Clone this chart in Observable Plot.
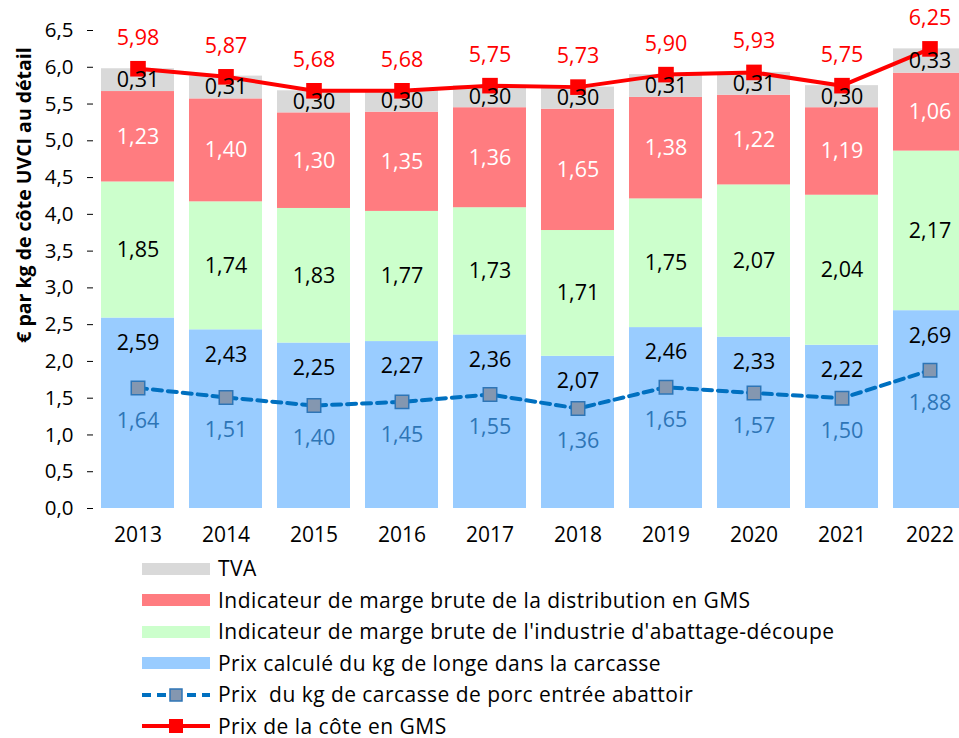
<!DOCTYPE html>
<html><head><meta charset="utf-8">
<script src="https://cdn.jsdelivr.net/npm/d3@7"></script>
<script src="https://cdn.jsdelivr.net/npm/@observablehq/plot@0.6"></script>
<style>
body{margin:0;background:#fff;font-family:"Open Sans",sans-serif;}
#chart{width:959px;overflow:hidden;}
#legend{margin-left:142px;}
.row{height:31.5px;display:flex;align-items:center;font-size:21px;letter-spacing:0.45px;color:#000;white-space:pre;}
.row span{line-height:1;}
.row svg{margin-right:8px;flex:none;}
</style></head><body>
<div id="chart"></div>
<div id="legend"></div>
<script>
const years = ["2013","2014","2015","2016","2017","2018","2019","2020","2021","2022"];
const prixLonge = [2.59,2.43,2.25,2.27,2.36,2.07,2.46,2.33,2.22,2.69];
const margeIndustrie = [1.85,1.74,1.83,1.77,1.73,1.71,1.75,2.07,2.04,2.17];
const margeGMS = [1.23,1.40,1.30,1.35,1.36,1.65,1.38,1.22,1.19,1.06];
const tva = [0.31,0.31,0.30,0.30,0.30,0.30,0.31,0.31,0.30,0.33];
const prixCoteGMS = [5.98,5.87,5.68,5.68,5.75,5.73,5.90,5.93,5.75,6.25];
const prixCarcasse = [1.64,1.51,1.40,1.45,1.55,1.36,1.65,1.57,1.50,1.88];
const yTicks = [0,0.5,1,1.5,2,2.5,3,3.5,4,4.5,5,5.5,6,6.5];
const serieNames = [
  "Prix calculé du kg de longe dans la carcasse",
  "Indicateur de marge brute de l'industrie d'abattage-découpe",
  "Indicateur de marge brute de la distribution en GMS",
  "TVA"
];
const lineNames = ["Prix  du kg de carcasse de porc entrée abattoir", "Prix de la côte en GMS"];
const yLabel = "€ par kg de côte UVCI au détail";

const colors = {
  longe: "#99CCFF", industrie: "#CCFFCC", gms: "#FF7C80", tva: "#D9D9D9",
  carcasseLine: "#0070C0", carcasseFill: "#8497B0", carcasseStroke: "#2E75B6",
  cote: "#FF0000"
};

const fmt = v => v.toFixed(2).replace(".", ",");
const fmtTick = v => v.toFixed(1).replace(".", ",");

const seriesValues = [prixLonge, margeIndustrie, margeGMS, tva];
const stacked = [];
years.forEach((y, i) => {
  serieNames.forEach((s, k) => stacked.push({year: y, serie: s, value: seriesValues[k][i], k}));
});
const pts = years.map((y, i) => ({year: y, cote: prixCoteGMS[i], carcasse: prixCarcasse[i], longe: prixLonge[i]}));

const LBL = 21.5;
const plot = Plot.plot({
  width: 959,
  height: 553,
  marginLeft: 93,
  marginTop: 30,
  marginBottom: 45,
  marginRight: -15,
  style: {fontFamily: "Open Sans", fontSize: "20px", color: "#000", background: "#fff", overflow: "hidden"},
  x: {type: "band", domain: years, paddingInner: 0.17, paddingOuter: 0.09, label: null},
  y: {domain: [0, 6.5], label: null},
  color: {domain: serieNames, range: [colors.longe, colors.industrie, colors.gms, colors.tva]},
  marks: [
    Plot.barY(stacked, {x: "year", y: "value", fill: "serie", order: "k"}),
    Plot.axisY({ticks: yTicks, tickFormat: fmtTick, tickSize: 6, tickPadding: 14, line: true, label: null, fontSize: 20.5}),
    Plot.axisX({tickSize: 0, tickPadding: 19, line: true, label: null, fontSize: 21}),
    Plot.line(pts, {x: "year", y: "carcasse", stroke: colors.carcasseLine, strokeWidth: 4, strokeDasharray: "9,6"}),
    Plot.dot(pts, {x: "year", y: "carcasse", symbol: "square", r: 7.6, fill: colors.carcasseFill, stroke: colors.carcasseStroke, strokeWidth: 1.5}),
    Plot.line(pts, {x: "year", y: "cote", stroke: colors.cote, strokeWidth: 4}),
    Plot.dot(pts, {x: "year", y: "cote", symbol: "square", r: 8.8, fill: colors.cote}),
    Plot.text(stacked, Plot.stackY({x: "year", y: "value", order: "k", text: d => (d.k === 1 || d.k === 3) ? fmt(d.value) : "", fill: "#000", fontSize: LBL})),
    Plot.text(stacked, Plot.stackY({x: "year", y: "value", order: "k", text: d => d.k === 2 ? fmt(d.value) : "", fill: "#fff", fontSize: LBL})),
    Plot.text(pts, {x: "year", y: "longe", text: d => fmt(d.longe), dy: 25, fill: "#000", fontSize: LBL}),
    Plot.text(pts, {x: "year", y: "carcasse", text: d => fmt(d.carcasse), dy: 33, fill: colors.carcasseStroke, fontSize: LBL}),
    Plot.text(pts, {x: "year", y: "cote", text: d => fmt(d.cote), dy: -31, fill: colors.cote, fontSize: LBL})
  ]
});
d3.select(plot).append("text")
  .attr("transform", "translate(23,195) rotate(-90)")
  .attr("text-anchor", "middle")
  .attr("dominant-baseline", "central")
  .attr("font-weight", "bold")
  .attr("font-size", 19.5)
  .attr("font-family", "Open Sans")
  .attr("fill", "#000")
  .text(yLabel);
document.getElementById("chart").appendChild(plot);

// Legend (HTML below the SVG)
const legend = d3.select("#legend");
const legendItems = [
  {name: serieNames[3], type: "swatch", color: colors.tva},
  {name: serieNames[2], type: "swatch", color: colors.gms},
  {name: serieNames[1], type: "swatch", color: colors.industrie},
  {name: serieNames[0], type: "swatch", color: colors.longe},
  {name: lineNames[0], type: "dash"},
  {name: lineNames[1], type: "solid"}
];
legendItems.forEach(it => {
  const row = legend.append("div").attr("class", "row");
  const s = row.append("svg").attr("width", 68).attr("height", 20);
  if (it.type === "swatch") {
    s.append("rect").attr("x", 0).attr("y", 4).attr("width", 68).attr("height", 12).attr("fill", it.color);
  } else if (it.type === "dash") {
    s.append("line").attr("x1", 0).attr("x2", 68).attr("y1", 10).attr("y2", 10)
      .attr("stroke", colors.carcasseLine).attr("stroke-width", 4).attr("stroke-dasharray", "9,6");
    s.append("rect").attr("x", 28).attr("y", 4).attr("width", 12).attr("height", 12)
      .attr("fill", colors.carcasseFill).attr("stroke", colors.carcasseStroke).attr("stroke-width", 1.5);
  } else {
    s.append("line").attr("x1", 0).attr("x2", 68).attr("y1", 10).attr("y2", 10)
      .attr("stroke", colors.cote).attr("stroke-width", 4);
    s.append("rect").attr("x", 27).attr("y", 3).attr("width", 14).attr("height", 14).attr("fill", colors.cote);
  }
  row.append("span").text(it.name);
});
</script>
</body></html>
